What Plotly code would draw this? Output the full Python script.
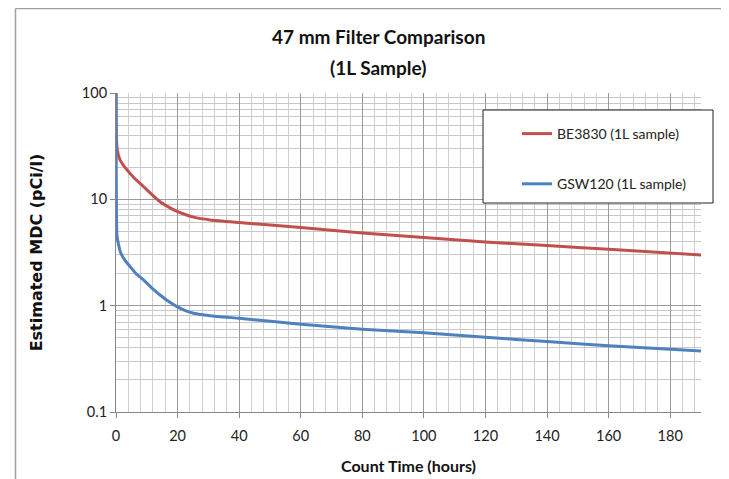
import plotly.graph_objects as go

# Data
t_be3830 = [0.0, 0.1, 0.4, 1.3, 3.5, 6.0, 8.9, 11.5, 14.3, 17.0, 19.8, 22.5, 25.2, 30.6,
            40, 60, 80, 100, 120, 140, 160, 190]
mdc_be3830 = [100, 40, 29.3, 23.5, 19.0, 15.8, 13.2, 11.2, 9.5, 8.5, 7.7, 7.2, 6.8, 6.4,
              6.05, 5.43, 4.83, 4.38, 3.98, 3.67, 3.40, 3.0]

t_gsw120 = [0.0, 0.05, 0.15, 0.3, 0.7, 1.5, 2.8, 4.6, 6.5, 8.9, 11.5, 14.3, 17.0, 19.8, 22.5,
            25.2, 30.6, 40, 60, 80, 100, 120, 140, 160, 190]
mdc_gsw120 = [100, 30, 7.0, 4.6, 3.9, 3.15, 2.7, 2.33, 2.0, 1.75, 1.48, 1.26, 1.1, 0.98, 0.9,
              0.85, 0.805, 0.76, 0.67, 0.60, 0.555, 0.505, 0.46, 0.42, 0.374]

x_ticks = [0, 20, 40, 60, 80, 100, 120, 140, 160, 180]
y_ticks = [0.1, 1, 10, 100]
y_tick_labels = ["0.1", "1", "10", "100"]

series_names = ["BE3830 (1L sample)", "GSW120 (1L sample)"]
series_colors = ["#C0504D", "#4F81BD"]

title_lines = ["47 mm Filter Comparison", "(1L Sample)"]
x_title = "Count Time (hours)"
y_title = "Estimated MDC (pCi/l)"

FONT = "Lato"
W, H = 729, 479
OFF = 8  # page body margin offset
# reference pixel positions of the plot area
PL, PR, PT, PB = 116, 701, 93, 412
L, T = PL - OFF, PT - OFF
R, B = W - (PR - OFF), H - (PB - OFF)
pw, ph = PR - PL, PB - PT


def px_x(p):
    return (p - PL) / pw


def px_y(p):
    return (PB - p) / ph


fig = go.Figure()
for i, (xs, ys) in enumerate([(t_be3830, mdc_be3830), (t_gsw120, mdc_gsw120)]):
    fig.add_trace(go.Scatter(
        x=xs, y=ys, mode="lines", name=series_names[i],
        line=dict(color=series_colors[i], width=3, shape="spline", smoothing=0.5),
        legendgroup=f"g{i}",
    ))

fig.update_layout(
    width=W, height=H,
    margin=dict(l=L, r=R, t=T, b=B, autoexpand=False),
    paper_bgcolor="white", plot_bgcolor="white",
    font=dict(family=FONT, size=13, color="#222222"),
    showlegend=True,
    legend=dict(
        x=px_x(517), y=px_y(118), xanchor="left", yanchor="top",
        bgcolor="rgba(0,0,0,0)", borderwidth=0,
        font=dict(family=FONT, size=14, color="#222222"),
        tracegroupgap=29, itemwidth=30,
    ),
    xaxis=dict(
        range=[0, 190], tickvals=x_ticks, ticks="outside", ticklen=5,
        tickcolor="#868686", showline=True, linecolor="#868686", linewidth=1,
        showgrid=True, gridcolor="#9a9a9a", gridwidth=1,
        minor=dict(dtick=4, showgrid=True, gridcolor="#d0d0d0", gridwidth=1),
        zeroline=False, tickfont=dict(size=14.5), ticklabelstandoff=6,
        title=dict(text=f"<b>{x_title}</b>", font=dict(size=16, color="#111111"), standoff=17),
    ),
    yaxis=dict(
        type="log", range=[-1, 2], tickvals=y_ticks, ticktext=y_tick_labels,
        ticks="outside", ticklen=5, tickcolor="#868686",
        showline=True, linecolor="#868686", linewidth=1,
        showgrid=True, gridcolor="#9a9a9a", gridwidth=1,
        minor=dict(showgrid=True, gridcolor="#c8c8c8", gridwidth=1,
                   tickvals=[m * 10 ** e for e in (-1, 0, 1) for m in range(2, 10)]),
        zeroline=False, tickfont=dict(size=14.5),
        title=dict(text=f"<b>{y_title}</b>",
                   font=dict(size=16, color="#111111", family="DejaVu Sans"), standoff=35),
    ),
    annotations=[
        dict(text=f"<b>{title_lines[0]}</b>", x=px_x(378), y=px_y(37), xref="paper", yref="paper",
             xanchor="center", yanchor="middle",
             showarrow=False, font=dict(size=19, color="#111111", family=FONT)),
        dict(text=f"<b>{title_lines[1]}</b>", x=px_x(378), y=px_y(67), xref="paper", yref="paper",
             xanchor="center", yanchor="middle",
             showarrow=False, font=dict(size=19, color="#111111", family=FONT)),
    ],
    shapes=[
        # legend box
        dict(type="rect", xref="paper", yref="paper",
             x0=px_x(483), x1=px_x(713), y0=px_y(203), y1=px_y(110),
             fillcolor="white", line=dict(color="#222222", width=1), layer="above"),
        # outer chart border (top and left edges)
        dict(type="line", xref="paper", yref="paper",
             x0=px_x(15.5), x1=px_x(745), y0=px_y(8.5), y1=px_y(8.5),
             line=dict(color="#a0a0a0", width=1.5)),
        dict(type="line", xref="paper", yref="paper",
             x0=px_x(15.5), x1=px_x(15.5), y0=px_y(8.5), y1=px_y(495),
             line=dict(color="#a0a0a0", width=1.5)),
    ],
)

fig.write_html("out.html")
